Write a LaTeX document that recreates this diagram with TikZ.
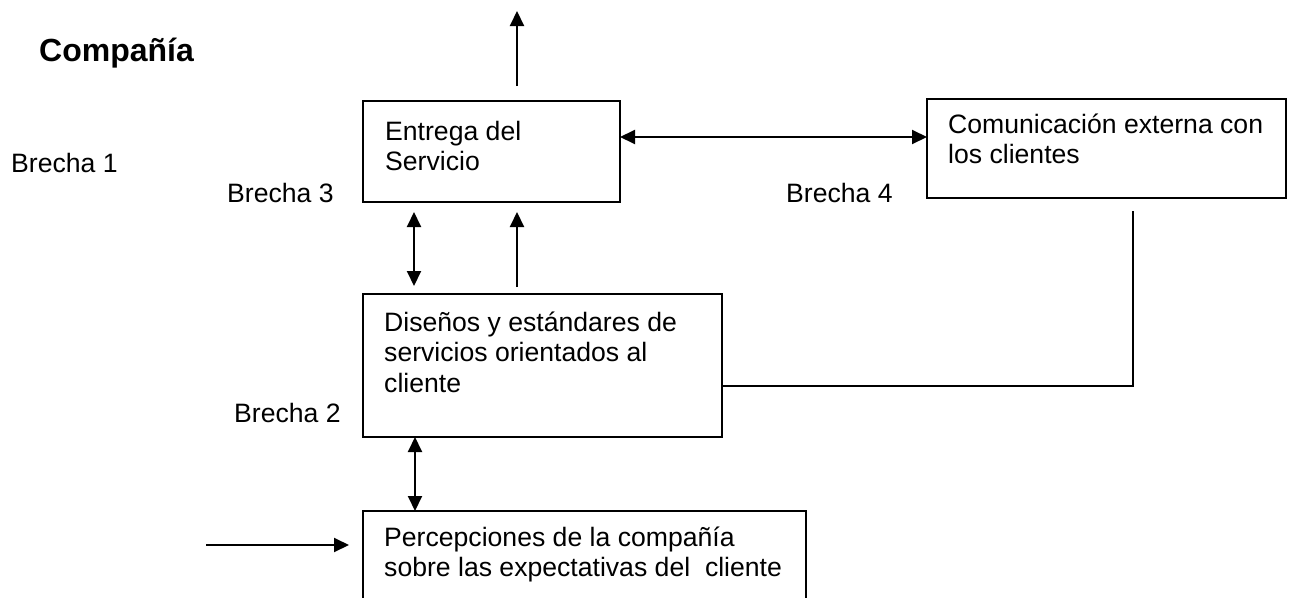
\documentclass[tikz,border=0pt]{standalone}
\usepackage{fontspec}
\setmainfont{Liberation Sans}
\usetikzlibrary{arrows.meta}

\tikzset{
	caja/.style={draw, line width=1.5pt, anchor=north west, inner sep=0pt, outer sep=0pt},
	texto/.style={anchor=base west, align=left, inner sep=0pt, font=\fontsize{26.6}{30.6}\selectfont},
	flecha/.style={line width=2pt, -{Triangle[length=15pt,width=14pt]}},
	flechados/.style={line width=2pt, {Triangle[length=15pt,width=14pt]}-{Triangle[length=15pt,width=14pt]}},
	linea/.style={line width=1.3pt}
}

\begin{document}
\begin{tikzpicture}[x=1pt,y=-1pt]
	\useasboundingbox (0,0) rectangle (1293,597);
	\clip (0,0) rectangle (1293,597);
	% cajas
	\node[caja, minimum width=257pt, minimum height=101pt] (entrega) at (363,101) {};
	\node[caja, minimum width=359pt, minimum height=99pt] (comunic) at (927,99) {};
	\node[caja, minimum width=359pt, minimum height=143pt] (disenos) at (363,294) {};
	\node[caja, minimum width=443pt, minimum height=110pt] (percep) at (363,511) {};
	% textos de las cajas (base = ultima linea)
	\node[texto] at ([shift={(22,69.6)}]entrega.north west) {Entrega del\\Servicio};
	\node[texto] at ([shift={(21,64.6)}]comunic.north west) {Comunicación externa con\\los clientes};
	\node[texto] at ([shift={(21,98.2)}]disenos.north west) {Diseños y estándares de\\servicios orientados al\\cliente};
	\node[texto] at ([shift={(21,65.6)}]percep.north west) {Percepciones de la compañía\\sobre las expectativas del~ cliente};
	% brechas
	\node[texto, font=\fontsize{32}{37}\selectfont\bfseries] (compania) at (39,61) {Compañía};
	\node[texto] (brecha1) at (11,172) {Brecha 1};
	\node[texto] (brecha3) at (227,202) {Brecha 3};
	\node[texto] (brecha4) at (786,202) {Brecha 4};
	\node[texto] (brecha2) at (234,422) {Brecha 2};
	% flechas
	\draw[flecha] ([xshift=154pt,yshift=15pt]entrega.north west) -- ([xshift=154pt,yshift=90pt]entrega.north west);
	\draw[flechados] ([yshift=14.5pt]entrega.east) -- ([yshift=14.5pt]entrega.east -| comunic.west);
	\draw[flechados] ([xshift=51pt,yshift=-10pt]entrega.south west) -- ([xshift=51pt,yshift=8pt]disenos.north west);
	\draw[flecha] ([xshift=154pt,yshift=7pt]disenos.north west) -- ([xshift=154pt,yshift=-10pt]entrega.south west);
	\draw[flechados] ([xshift=52pt]disenos.south west) -- ([xshift=52pt]percep.north west);
	\draw[flecha] ([xshift=-157pt,yshift=-34pt]percep.north west) -- ([xshift=-14pt,yshift=-34pt]percep.north west);
	\draw[linea] ([yshift=-20.5pt]disenos.east) -| ([xshift=26.5pt,yshift=-13pt]comunic.south);
\end{tikzpicture}
\end{document}
